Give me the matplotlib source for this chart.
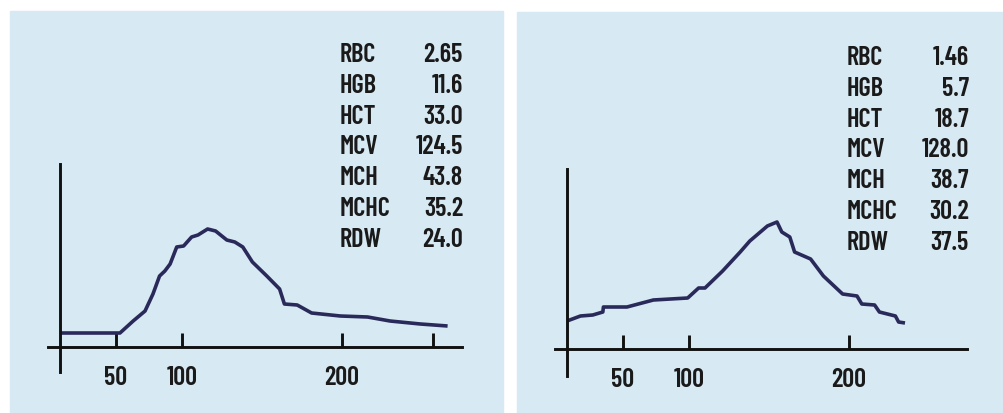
import numpy as np
import matplotlib
matplotlib.use("Agg")
import matplotlib.pyplot as plt
from matplotlib.patches import Rectangle

# ---- data -------------------------------------------------------------
param_names = ["RBC", "HGB", "HCT", "MCV", "MCH", "MCHC", "RDW"]
left_values = ["2.65", "11.6", "33.0", "124.5", "43.8", "35.2", "24.0"]
right_values = ["1.46", "5.7", "18.7", "128.0", "38.7", "30.2", "37.5"]

# histogram traces: cell volume (fL) vs relative count
left_fl = [0, 49, 53, 63, 72, 78, 83, 87, 91, 96, 101, 106, 110, 116, 121,
           128, 133, 138, 144, 153, 161, 164, 172, 181, 199, 216, 230, 249, 266]
left_count = [14, 14, 14, 26, 36, 53, 71, 76, 83, 100, 101, 110, 112, 118, 116,
              107, 105, 100, 85, 71, 58, 43, 42, 34, 31, 30, 26, 23, 21]

right_fl = [0, 12, 23, 32, 32.5, 53, 73, 99, 106, 110, 121, 132, 138, 149, 155,
            158, 163, 166, 176, 184, 196, 205, 208, 216, 219, 229, 231, 235]
right_count = [28, 33, 34, 37, 42, 42, 49, 51, 61, 61, 78, 97, 108, 123, 127,
               117, 112, 97, 90, 73, 55, 53, 45, 44, 37, 33, 27, 26]

left_ticks = [50, 100, 200, 257]
left_ticklabels = ["50", "100", "200", ""]
right_ticks = [50, 100, 200]
right_ticklabels = ["50", "100", "200"]

# the printed x axis is not linear: anchor points (fL -> drawn position)
scale_fl = [-100, 0, 50, 100, 200, 1000]
scale_pos = [-112, 0, 56, 122, 282, 1562]


def fwd(x):
    return np.interp(x, scale_fl, scale_pos)


def inv(x):
    return np.interp(x, scale_pos, scale_fl)


W, H = 1004, 414
BG = "#d7e9f3"
LINE = "#2a2a5a"
FONT = ["Barlow Condensed", "Roboto Condensed", "IBM Plex Sans Condensed",
        "DejaVu Sans"]
FS = 19
WT = 600

fig = plt.figure(figsize=(W / 100, H / 100), dpi=100)
fig.patch.set_facecolor("white")

# blue panels (behind the axes)
fig.patches.append(Rectangle((10 / W, 0), 493 / W, (H - 12) / H,
                             transform=fig.transFigure, color=BG, zorder=-10))
fig.patches.append(Rectangle((517 / W, 0), (W - 517) / W, (H - 13) / H,
                             transform=fig.transFigure, color=BG, zorder=-10))


def panel(px_box, ylim, fl, count, ticks, ticklabels, names, values,
          text_left, text_right, text_top):
    x0, y0, x1, y1 = px_box
    ax = fig.add_axes([x0 / W, (H - y1) / H, (x1 - x0) / W, (y1 - y0) / H])
    ax.set_facecolor("none")
    ax.set_xscale("function", functions=(fwd, inv))
    ax.set_xlim(inv(-12), inv(x1 - x0 - 12))
    ax.set_ylim(*ylim)

    ax.plot(fl, count, color=LINE, lw=2.6, solid_joinstyle="round",
            solid_capstyle="butt")

    for s in ["top", "right"]:
        ax.spines[s].set_visible(False)
    ax.spines["left"].set_position(("data", 0))
    ax.spines["bottom"].set_position(("data", 0))
    for s in ["left", "bottom"]:
        ax.spines[s].set_linewidth(2.1)
        ax.spines[s].set_color("#111111")

    ax.set_yticks([])
    ax.set_xticks(ticks)
    ax.set_xticklabels(ticklabels, family=FONT, fontsize=FS, weight=WT)
    ax.xaxis.set_minor_locator(plt.NullLocator())
    ax.tick_params(axis="x", direction="in", length=10, width=2.1,
                   color="#111111", pad=13, labelcolor="#1a1a1a")

    for i, (n, v) in enumerate(zip(names, values)):
        y = 1 - (text_top + i * 30.8) / H
        fig.text(text_left / W, y, n, ha="left", va="center",
                 family=FONT, fontsize=FS, weight=WT, color="#1a1a1a")
        fig.text(text_right / W, y, v, ha="right", va="center",
                 family=FONT, fontsize=FS, weight=WT, color="#1a1a1a")
    return ax


panel((48, 165, 462, 373), (-25, 183), left_fl, left_count,
      left_ticks, left_ticklabels, param_names, left_values, 340, 463, 55)
panel((555, 170, 967, 377), (-27, 180), right_fl, right_count,
      right_ticks, right_ticklabels, param_names, right_values, 847, 969, 58)

fig.savefig("out.png", dpi=100)
